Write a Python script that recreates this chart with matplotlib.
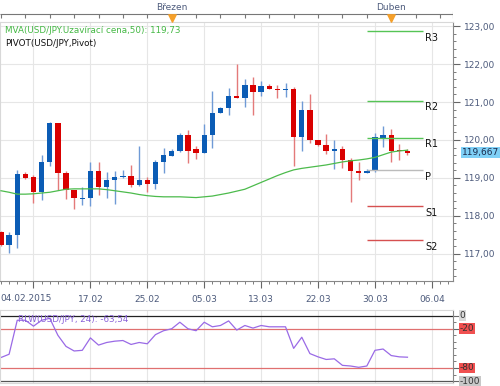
import numpy as np
import matplotlib
matplotlib.use("Agg")
import matplotlib.pyplot as plt

# daily candles 04.02.2015 - 03.04.2015 (index 0..50)
opens = [117.56, 117.23, 117.50, 119.10, 119.03, 118.64, 119.41, 120.45, 119.12, 118.69,
         118.44, 118.47, 119.19, 118.77, 118.94, 119.01, 119.06, 118.81, 118.95, 118.85,
         119.41, 119.57, 119.70, 120.12, 119.75, 119.65, 120.12, 120.72, 120.84, 121.15,
         121.10, 121.44, 121.26, 121.41, 121.35, 121.31, 121.35, 120.09, 120.78, 120.01,
         119.87, 119.72, 119.76, 119.47, 119.18, 119.12, 119.19, 120.06, 120.12, 119.74,
         119.70]
closes = [117.23, 117.50, 119.10, 119.00, 118.64, 119.41, 120.45, 119.12, 118.69, 118.46,
          118.48, 119.19, 118.77, 118.94, 119.03, 119.06, 118.82, 118.95, 118.85, 119.43,
          119.59, 119.70, 120.12, 119.72, 119.65, 120.14, 120.72, 120.84, 121.16, 121.10,
          121.44, 121.26, 121.41, 121.34, 121.31, 121.34, 120.09, 120.78, 120.01, 119.87,
          119.72, 119.76, 119.48, 119.17, 119.13, 119.19, 120.07, 120.12, 119.72, 119.70,
          119.667]
highs = [117.60, 117.56, 119.21, 119.16, 119.08, 119.59, 120.47, 120.45, 119.17, 118.69,
         118.75, 119.41, 119.41, 119.16, 119.19, 119.22, 119.34, 119.83, 119.03, 119.47,
         119.78, 119.76, 120.18, 120.25, 119.83, 120.41, 121.28, 120.88, 121.37, 122.01,
         121.62, 121.66, 121.55, 121.48, 121.44, 121.51, 121.39, 121.02, 121.22, 120.01,
         120.16, 120.00, 119.83, 119.53, 119.41, 119.24, 120.18, 120.38, 120.29, 119.88,
         119.75]
lows = [117.20, 117.03, 117.14, 118.97, 118.35, 118.41, 119.30, 118.68, 118.44, 118.18,
        118.29, 118.25, 118.56, 118.47, 118.31, 119.00, 118.75, 118.78, 118.62, 118.71,
        119.13, 119.57, 119.67, 119.38, 119.50, 119.65, 119.79, 120.72, 120.65, 121.10,
        120.87, 120.65, 121.15, 121.34, 121.11, 121.13, 119.32, 119.70, 119.91, 119.83,
        119.63, 119.24, 119.26, 118.37, 118.94, 119.12, 119.15, 119.81, 119.43, 119.47,
        119.61]

mva = [118.66, 118.62, 118.57, 118.57, 118.58, 118.60, 118.62, 118.66, 118.70, 118.71,
       118.71, 118.71, 118.71, 118.69, 118.66, 118.63, 118.60, 118.56, 118.53, 118.51,
       118.50, 118.50, 118.50, 118.49, 118.48, 118.50, 118.52, 118.56, 118.60, 118.65,
       118.70, 118.79, 118.88, 118.97, 119.06, 119.14, 119.21, 119.25, 119.28, 119.31,
       119.34, 119.38, 119.42, 119.45, 119.47, 119.50, 119.54, 119.61, 119.68, 119.71,
       119.73]

rlw = [-64, -59, -7, -7, -16, -7, -4, -30, -47, -54,
       -53, -34, -45, -41, -39, -38, -44, -41, -43, -29,
       -23, -20, -10, -20, -23, -10, -17, -15, -8, -22,
       -15, -19, -15, -17, -17, -17, -50, -33, -58, -63,
       -67, -66, -76, -77, -79, -77, -53, -51, -61, -63,
       -63.54]

pivot_names = ["R3", "R2", "R1", "P", "S1", "S2"]
pivot_values = [122.87, 121.03, 120.06, 119.20, 118.25, 117.36]
pivot_colors = ["#55c455", "#55c455", "#55c455", "#bbbbbb", "#d65050", "#d65050"]

date_pos = [11, 18, 25, 32, 39, 46, 53]
date_labels = ["17.02", "25.02", "05.03", "13.03", "22.03", "30.03", "06.04"]
grid_pos = [4] + date_pos
month_pos = [21, 48]
month_labels = ["Březen", "Duben"]

W, H = 500, 386
txt_col = "#4d5b7c"
blue, red = "#0b5cb5", "#d90000"
blue_w, red_w = "#6f9ad6", "#e47a7a"
xmin, xmax = -0.12, 55.6
right = 453 / W

fig = plt.figure(figsize=(5.0, 3.86), dpi=100)

# ---- main price panel
ax = fig.add_axes([0, 1 - 281 / H, right, (281 - 22) / H])
ax.set_xlim(xmin, xmax)
ax.set_ylim(116.28, 123.11)
for s in ["left", "top"]:
    ax.spines[s].set_color("#d8d8d8")
ax.spines["bottom"].set_color("#888888")
ax.spines["right"].set_color("#888888")

ax.set_xticks(grid_pos)
ax.set_xticklabels([""] + date_labels, fontsize=6.5, color=txt_col)
ax.set_xticks(np.arange(0, 56), minor=True)
ax.tick_params(axis="x", which="major", length=5, color="#666666", pad=5)
ax.tick_params(axis="x", which="minor", length=2.5, color="#666666")
ax.text(xmin, -0.066, "04.02.2015", transform=ax.get_xaxis_transform(),
        ha="left", va="center", fontsize=6.5, color=txt_col)

ax.yaxis.tick_right()
ax.set_yticks(np.arange(117, 124))
ax.set_yticklabels([f"{v:.2f}".replace(".", ",") for v in range(117, 124)],
                   fontsize=6.5, color=txt_col)
ax.set_yticks(np.arange(116.4, 123.1, 0.2), minor=True)
ax.tick_params(axis="y", which="major", length=5, color="#666666", pad=3)
ax.tick_params(axis="y", which="minor", length=2.5, color="#666666")
ax.grid(True, which="major", color="#e6e6e6", linewidth=0.8)
ax.set_axisbelow(True)

x = np.arange(len(opens))
o = np.array(opens)
c = np.array(closes)
up = c >= o
ax.vlines(x[up], np.array(lows)[up], np.array(highs)[up], color=blue_w, linewidth=1, zorder=2)
ax.vlines(x[~up], np.array(lows)[~up], np.array(highs)[~up], color=red_w, linewidth=1, zorder=2)
body_h = np.maximum(np.abs(c - o), 0.035)
body_b = np.minimum(o, c)
ax.bar(x, body_h, bottom=body_b, width=0.66,
       color=[blue if u else red for u in up], linewidth=0, zorder=3)

ax.plot(x, mva, color="#4cbb4c", linewidth=0.9, zorder=4)

for name, val, col in zip(pivot_names, pivot_values, pivot_colors):
    ax.hlines(val, 45, 51.9, color=col, linewidth=1, zorder=4)
    ax.text(52.2, val - 0.04, name, ha="left", va="top", fontsize=7, color="#111111")

ax.text(1.02, closes[-1], f"{closes[-1]:.3f}".replace(".", ","),
        transform=ax.get_yaxis_transform(), ha="left", va="center", fontsize=6.5,
        color="#1b2b4c", bbox=dict(boxstyle="square,pad=0.15", fc="#7fd0f7", ec="none"),
        clip_on=False)

ax.text(0.012, 0.985, f"MVA(USD/JPY.Uzavírací cena,50): {mva[-1]:.2f}".replace("119.73", "119,73"),
        transform=ax.transAxes, ha="left", va="top", fontsize=6.3, color="#44b844")
ax.text(0.012, 0.935, "PIVOT(USD/JPY,Pivot)", transform=ax.transAxes,
        ha="left", va="top", fontsize=6.3, color="#111111")

# ---- top month strip
axt = fig.add_axes([0, 1 - 22 / H, right, 22 / H])
axt.set_xlim(xmin, xmax)
axt.set_ylim(22, 0)
axt.axis("off")
axt.hlines(14, xmin, xmax, color="#777777", linewidth=0.8)
axt.vlines(np.arange(0, 56, 3), 14, 18, color="#777777", linewidth=0.8)
axt.vlines(xmax - 0.05, 11, 18, color="#777777", linewidth=0.8)
axt.scatter(month_pos, [17.5] * len(month_pos), marker="v", s=28, color="#f5a02a", zorder=3)
for p, lab in zip(month_pos, month_labels):
    axt.text(p, 7, lab, ha="center", va="center", fontsize=6.5, color=txt_col)

# ---- RLW panel
axr = fig.add_axes([0, 1 - 383 / H, right, (383 - 310) / H])
axr.set_xlim(xmin, xmax)
axr.set_ylim(-103, 8.7)
for s in ["left", "top", "bottom"]:
    axr.spines[s].set_color("#d8d8d8")
axr.spines["right"].set_color("#888888")
axr.set_xticks(grid_pos)
axr.tick_params(axis="x", length=0, labelbottom=False)
axr.grid(True, axis="x", color="#e6e6e6", linewidth=0.8)
axr.yaxis.tick_right()
axr.set_yticks([0, -20, -80, -100])
axr.set_yticklabels([])
axr.set_yticks(np.arange(-100, 1, 10), minor=True)
axr.tick_params(axis="y", which="major", length=5, color="#666666")
axr.tick_params(axis="y", which="minor", length=2.5, color="#666666")
axr.axhline(0, color="#222222", linewidth=0.9)
axr.axhline(-100, color="#555555", linewidth=0.9)
axr.axhline(-20, color="#e07070", linewidth=0.9)
axr.axhline(-80, color="#e07070", linewidth=0.9)
axr.plot(x, rlw, color="#9a6ae6", linewidth=0.9)
for v, bg in [(0, "#d9d9d9"), (-20, "#f05050"), (-80, "#f05050"), (-100, "#c8c8c8")]:
    axr.text(1.015, v, f"{v}", transform=axr.get_yaxis_transform(), ha="left", va="center",
             fontsize=6.5, color="#333333", clip_on=False,
             bbox=dict(boxstyle="square,pad=0.1", fc=bg, ec="none"))
axr.text(0.04, 0.93, f"RLW(USD/JPY, 24): {rlw[-1]:.2f}".replace(".", ","),
         transform=axr.transAxes, ha="left", va="top", fontsize=6.3, color="#8a62d8")

fig.savefig("out.png", dpi=100)
